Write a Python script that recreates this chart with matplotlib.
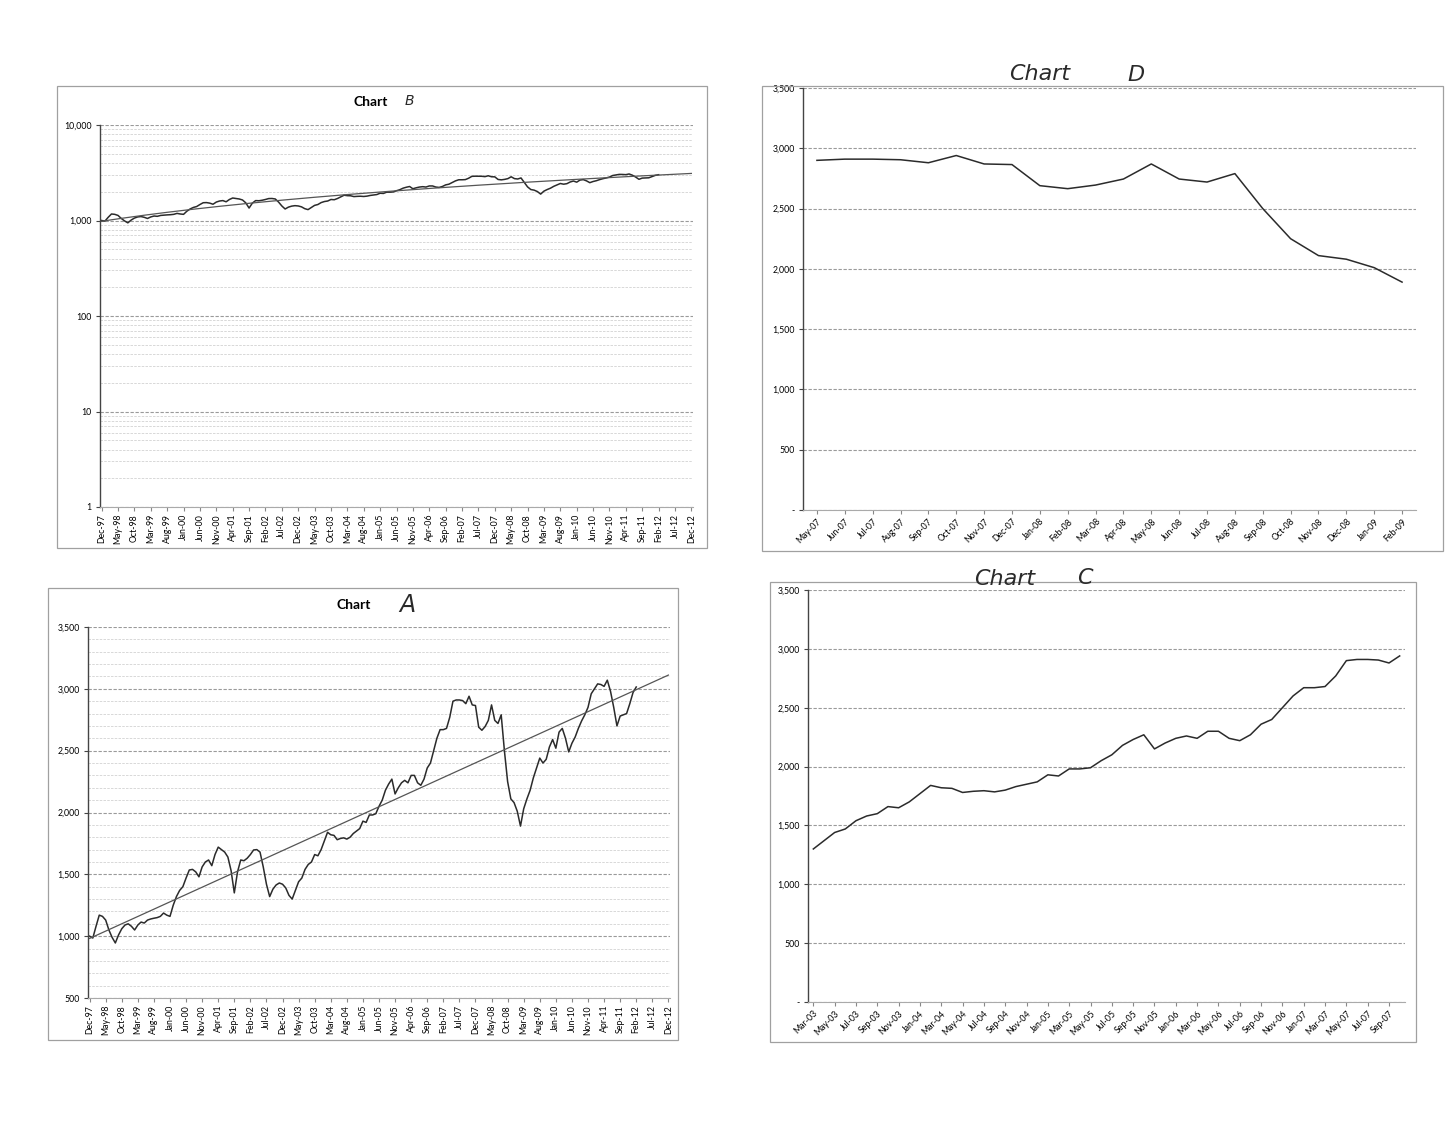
import numpy as np
import pandas as pd
import matplotlib
matplotlib.use('Agg')
import matplotlib.pyplot as plt
from matplotlib.patches import Rectangle
from matplotlib.ticker import FuncFormatter, MultipleLocator, LogLocator, NullFormatter

plt.rcParams['font.family'] = ['Lato', 'DejaVu Sans']

# monthly index level, Dec-97 .. Feb-12
index_values = [
    1000, 985, 1080, 1170, 1160, 1130, 1050, 990, 945, 1010, 1060, 1090,      # Dec-97..Nov-98
    1100, 1080, 1050, 1090, 1114, 1106, 1130, 1139, 1145, 1150, 1160, 1187,   # Dec-98..Nov-99
    1170, 1160, 1250, 1320, 1370, 1400, 1470, 1535, 1540, 1520, 1480, 1560,   # Dec-99..Nov-00
    1600, 1616, 1570, 1660, 1720, 1700, 1680, 1640, 1530, 1350, 1520, 1616,   # Dec-00..Nov-01
    1610, 1630, 1660, 1697, 1700, 1680, 1560, 1420, 1320, 1380, 1414, 1430,   # Dec-01..Nov-02
    1420, 1390, 1330, 1300, 1370, 1440, 1470, 1540, 1580, 1600, 1660, 1650,   # Dec-02..Nov-03
    1700, 1770, 1840, 1820, 1815, 1780, 1790, 1795, 1785, 1800, 1830, 1850,   # Dec-03..Nov-04
    1870, 1930, 1920, 1980, 1980, 1990, 2050, 2100, 2180, 2230, 2270, 2150,   # Dec-04..Nov-05
    2200, 2240, 2260, 2240, 2300, 2300, 2240, 2220, 2270, 2360, 2400, 2500,   # Dec-05..Nov-06
    2600, 2670, 2670, 2680, 2770, 2900, 2910, 2910, 2905, 2880, 2940, 2870,   # Dec-06..Nov-07
    2865, 2690, 2665, 2695, 2745, 2870, 2745, 2720, 2790, 2500, 2250, 2110,   # Dec-07..Nov-08
    2080, 2010, 1890, 2030, 2110, 2180, 2280, 2360, 2440, 2400, 2430, 2530,   # Dec-08..Nov-09
    2590, 2520, 2650, 2680, 2600, 2490, 2560, 2610, 2680, 2740, 2790, 2850,   # Dec-09..Nov-10
    2960, 3000, 3040, 3035, 3020, 3070, 2980, 2850, 2700, 2780, 2790, 2800,   # Dec-10..Nov-11
    2880, 2970, 3015,                                                         # Dec-11..Feb-12
]

# category axis for charts A and B runs to Dec-12
months_ab = pd.date_range('1997-12-01', '2012-12-01', freq='MS')
labels_ab = list(months_ab.strftime('%b-%y'))

# chart C: Mar-03 .. Oct-07, chart D: May-07 .. Feb-09
months_c = pd.date_range('2003-03-01', '2007-10-01', freq='MS')
labels_c = list(months_c.strftime('%b-%y'))
values_c = index_values[63:119]

labels_d = ['May-07', 'Jun-07', 'Jul-07', 'Aug-07', 'Sep-07', 'Oct-07', 'Nov-07',
            'Dec-07', 'Jan-08', 'Feb-08', 'Mar-08', 'Apr-08', 'May-08', 'Jun-08',
            'Jul-08', 'Aug-08', 'Sep-08', 'Oct-08', 'Nov-08', 'Dec-08', 'Jan-09', 'Feb-09']
values_d = index_values[113:135]

W, H = 1456, 1136
fig = plt.figure(figsize=(W / 100, H / 100), dpi=100)
fig.patch.set_facecolor('white')

LINE = '#2b2b2b'
GRID = '#9a9a9a'
MINOR = '#d2d2d2'
HAND = dict(family='DejaVu Sans', fontstyle='oblique', fontweight='normal', color='#2a2a2a')


def px_axes(x0, y0, x1, y1):
    return fig.add_axes([x0 / W, 1 - y1 / H, (x1 - x0) / W, (y1 - y0) / H])


def border(x0, y0, x1, y1):
    fig.add_artist(Rectangle((x0 / W, 1 - y1 / H), (x1 - x0) / W, (y1 - y0) / H,
                             transform=fig.transFigure, fill=False,
                             edgecolor='#a0a0a0', lw=0.9))


def comma(v, _):
    if v == 0:
        return '-'
    return f'{v:,.0f}'


def style(ax, labels, step, rot):
    for s in ['top', 'right']:
        ax.spines[s].set_visible(False)
    ax.spines['left'].set_color('#444444')
    ax.spines['left'].set_linewidth(1.0)
    ax.spines['bottom'].set_color('#aaaaaa')
    ax.spines['bottom'].set_linewidth(0.8)
    pos = np.arange(0, len(labels), step)
    ax.set_xticks(pos)
    if rot == 90:
        ax.set_xticklabels([labels[i] for i in pos], rotation=90, fontsize=6.3)
    else:
        ax.set_xticklabels([labels[i] for i in pos], rotation=45, ha='right',
                           rotation_mode='anchor', fontsize=6.3)
    ax.tick_params(axis='x', length=3, color='#888888', pad=2)
    ax.tick_params(axis='y', labelsize=6.3, length=3, color='#444444', pad=3)
    ax.grid(axis='y', which='major', color=GRID, lw=0.8, ls=(0, (3, 1.5)))
    ax.set_axisbelow(True)


x_ab = np.arange(len(index_values))
coef = np.polyfit(x_ab, index_values, 1)
trend_x = np.arange(len(labels_ab))
trend = np.polyval(coef, trend_x)

# ---- Chart B (log scale) ----
border(57, 86, 707, 548)
axb = px_axes(100, 125, 693, 507)
axb.set_yscale('log')
axb.set_ylim(1, 10000)
axb.set_xlim(-0.5, len(labels_ab) - 0.5)
axb.plot(x_ab, index_values, color=LINE, lw=1.1)
axb.plot(trend_x, trend, color='#555555', lw=0.9)
style(axb, labels_ab, 5, 90)
axb.yaxis.set_major_locator(LogLocator(base=10))
axb.yaxis.set_minor_locator(LogLocator(base=10, subs=np.arange(2, 10)))
axb.yaxis.set_major_formatter(FuncFormatter(comma))
axb.yaxis.set_minor_formatter(NullFormatter())
axb.tick_params(axis='y', which='minor', length=0)
axb.grid(axis='y', which='minor', color=MINOR, lw=0.6, ls=(0, (3, 1.5)))
fig.text(371 / W, 1 - 102 / H, 'Chart', fontsize=10, fontweight='bold', ha='center', va='center')
fig.text(409 / W, 1 - 101 / H, 'B', fontsize=10, ha='center', va='center', **HAND)

# ---- Chart D ----
border(762, 86, 1443, 551)
axd = px_axes(803, 88, 1416, 510)
axd.plot(np.arange(len(values_d)), values_d, color=LINE, lw=1.1)
axd.set_xlim(-0.5, len(values_d) - 0.5)
axd.set_ylim(0, 3500)
axd.yaxis.set_major_locator(MultipleLocator(500))
axd.yaxis.set_major_formatter(FuncFormatter(comma))
style(axd, labels_d, 1, 45)
fig.text(1040 / W, 1 - 74 / H, 'Chart', fontsize=16, ha='center', va='center', **HAND)
fig.text(1136 / W, 1 - 75 / H, 'D', fontsize=16, ha='center', va='center', **HAND)

# ---- Chart A ----
border(48, 588, 678, 1040)
axa = px_axes(88, 627, 670, 998)
axa.plot(x_ab, index_values, color=LINE, lw=1.1)
axa.plot(trend_x, trend, color='#555555', lw=0.9)
axa.set_xlim(-0.5, len(labels_ab) - 0.5)
axa.set_ylim(500, 3500)
axa.yaxis.set_major_locator(MultipleLocator(500))
axa.yaxis.set_minor_locator(MultipleLocator(100))
axa.yaxis.set_major_formatter(FuncFormatter(comma))
style(axa, labels_ab, 5, 90)
axa.tick_params(axis='y', which='minor', length=0)
axa.grid(axis='y', which='minor', color=MINOR, lw=0.6, ls=(0, (3, 1.5)))
fig.text(354 / W, 1 - 605 / H, 'Chart', fontsize=10, fontweight='bold', ha='center', va='center')
fig.text(407 / W, 1 - 605 / H, 'A', fontsize=17, ha='center', va='center', **HAND)

# ---- Chart C ----
border(770, 582, 1416, 1042)
axc = px_axes(808, 590, 1405, 1002)
axc.plot(np.arange(len(values_c)), values_c, color=LINE, lw=1.1)
axc.set_xlim(-0.5, len(values_c) - 0.5)
axc.set_ylim(0, 3500)
axc.yaxis.set_major_locator(MultipleLocator(500))
axc.yaxis.set_major_formatter(FuncFormatter(comma))
style(axc, labels_c, 2, 45)
fig.text(1005 / W, 1 - 579 / H, 'Chart', fontsize=16, ha='center', va='center', **HAND)
fig.text(1085 / W, 1 - 578 / H, 'C', fontsize=16, ha='center', va='center', **HAND)

fig.savefig('out.png', dpi=100, facecolor='white')
